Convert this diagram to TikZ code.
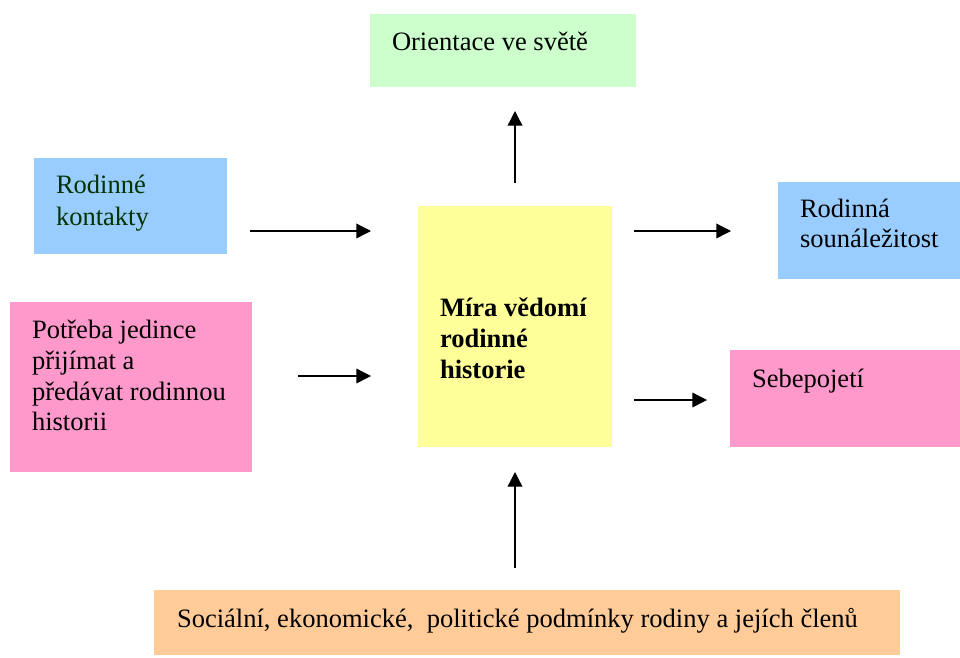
\documentclass[tikz,border=0pt]{standalone}
\usepackage{fontspec}
\setmainfont{Liberation Serif}
\usetikzlibrary{arrows.meta,fit}
\definecolor{cgreen}{HTML}{CCFFCC}
\definecolor{cblue}{HTML}{99CCFF}
\definecolor{cyellow}{HTML}{FFFF99}
\definecolor{cpink}{HTML}{FF99CC}
\definecolor{corange}{HTML}{FFCC99}
\definecolor{ctextgreen}{RGB}{0,51,0}
\tikzset{
  boxshape/.style={inner sep=0pt, outer sep=0pt, draw=none},
  lbl/.style={anchor=base west, inner sep=0pt, outer sep=0pt, align=left,
    font=\fontsize{19.9pt}{23.4pt}\selectfont},
  arr/.style={line width=1pt, -{Triangle[length=11pt,width=11pt]}}
}
\begin{document}
\begin{tikzpicture}[x=0.75pt,y=-0.75pt]
\useasboundingbox (0,0) rectangle (960,657);
% boxes
\node[boxshape, fill=cgreen, fit={(370,14) (636,87)}] (orient) {};
\node[boxshape, fill=cblue, fit={(34,158) (227,254)}] (kontakty) {};
\node[boxshape, fill=cyellow, fit={(418,206) (612,447)}] (mira) {};
\node[boxshape, fill=cblue, fit={(778,182) (960,279)}] (sounal) {};
\node[boxshape, fill=cpink, fit={(10,302) (252,472)}] (potreba) {};
\node[boxshape, fill=cpink, fit={(730,350) (960,447)}] (sebe) {};
\node[boxshape, fill=corange, fit={(154,590) (900,655)}] (podm) {};
% texts
\node[lbl] (torient) at (392,50) {Orientace ve světě};
\node[lbl, text=ctextgreen] (tkont1) at (56,193) {Rodinné};
\node[lbl, text=ctextgreen] (tkont2) at (56,225) {kontakty};
\node[lbl, font=\fontsize{19.9pt}{23.4pt}\selectfont\bfseries] (tmira1) at (440,316) {Míra vědomí};
\node[lbl, font=\fontsize{19.9pt}{23.4pt}\selectfont\bfseries] (tmira2) at (440,347) {rodinné};
\node[lbl, font=\fontsize{19.9pt}{23.4pt}\selectfont\bfseries] (tmira3) at (440,378) {historie};
\node[lbl] (tsoun1) at (800,217) {Rodinná};
\node[lbl] (tsoun2) at (800,247) {sounáležitost};
\node[lbl] (tpot1) at (32,338) {Potřeba jedince};
\node[lbl] (tpot2) at (32,369) {přijímat a};
\node[lbl] (tpot3) at (32,400) {předávat rodinnou};
\node[lbl] (tpot4) at (32,430) {historii};
\node[lbl] (tsebe) at (752,387) {Sebepojetí};
\node[lbl] (tpodm) at (177,627) {Sociální, ekonomické,\ \ politické podmínky rodiny a jejích členů};
% arrow end points
\coordinate (a1s) at (250,231); \coordinate (a1e) at (371,231);
\coordinate (a2s) at (298,376); \coordinate (a2e) at (371,376);
\coordinate (a3s) at (515,183); \coordinate (a3e) at (515,111);
\coordinate (a4s) at (634,231); \coordinate (a4e) at (731,231);
\coordinate (a5s) at (634,400); \coordinate (a5e) at (707,400);
\coordinate (a6s) at (515,568); \coordinate (a6e) at (515,472);
\draw[arr] (a1s) -- (a1e);
\draw[arr] (a2s) -- (a2e);
\draw[arr] (a3s) -- (a3e);
\draw[arr] (a4s) -- (a4e);
\draw[arr] (a5s) -- (a5e);
\draw[arr] (a6s) -- (a6e);
\end{tikzpicture}
\end{document}
